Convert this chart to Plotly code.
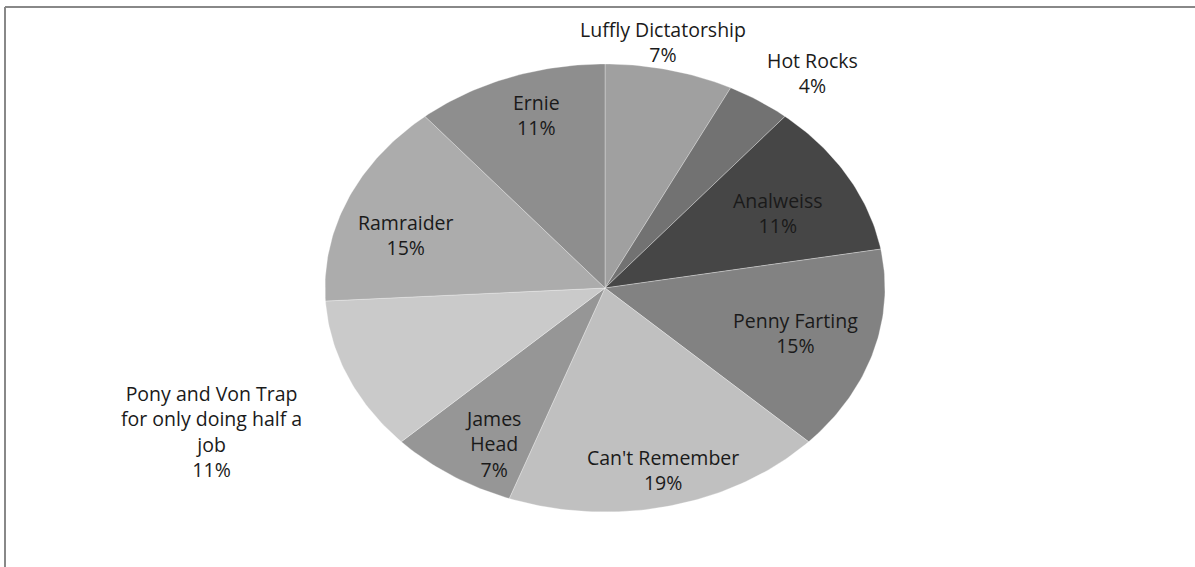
import numpy as np
import plotly.graph_objects as go

# ---- data ----
categories = ["Luffly Dictatorship", "Hot Rocks", "Analweiss", "Penny Farting",
              "Can't Remember", "James Head",
              "Pony and Von Trap for only doing half a job", "Ramraider", "Ernie"]
votes = [2, 1, 3, 4, 5, 2, 3, 4, 3]

# ---- style ----
colors = ["#a0a0a0", "#727272", "#464646", "#828282", "#c0c0c0",
          "#969696", "#cacaca", "#acacac", "#8e8e8e"]
label_lines = [["Luffly Dictatorship"], ["Hot Rocks"], ["Analweiss"], ["Penny Farting"],
               ["Can't Remember"], ["James", "Head"],
               ["Pony and Von Trap", "for only doing half a", "job"], ["Ramraider"], ["Ernie"]]
label_pos = [(663, 30), (812, 61), (778, 201), (795, 321), (663, 458),
             (493, 419), (211, 395), (406, 223), (536, 103)]
ref_gap = 24.5

W, H = 1195, 567
cx, cy, rx, ry = 605, 288, 280, 224

fig = go.Figure()
total = sum(votes)
start = 0.0
for name, v, col in zip(categories, votes, colors):
    frac = v / total
    th = np.linspace(start, start + frac * 2 * np.pi, max(int(frac * 400), 8))
    xs = np.concatenate([[cx], cx + rx * np.sin(th), [cx]])
    ys = np.concatenate([[cy], cy - ry * np.cos(th), [cy]])
    fig.add_trace(go.Scatter(x=xs, y=ys, mode="lines", fill="toself",
                             fillcolor=col, line=dict(color="rgba(255,255,255,0.3)", width=1),
                             name=name, hoverinfo="name", showlegend=False))
    start += frac * 2 * np.pi

for lines, v, (lx, ly) in zip(label_lines, votes, label_pos):
    pct = round(v / total * 100)
    allines = lines + [f"{pct}%"]
    yc = ly + (len(allines) - 1) * ref_gap / 2
    fig.add_annotation(x=lx, y=yc, text="<br>".join(allines), showarrow=False,
                       font=dict(family="Open Sans", size=19.5, color="#1a1a1a"),
                       xanchor="center", yanchor="middle", align="center", borderpad=0)

# chart frame (left and top edges visible)
fig.add_shape(type="line", x0=5, x1=W, y0=7, y1=7, line=dict(color="#888888", width=2))
fig.add_shape(type="line", x0=5, x1=5, y0=7, y1=H, line=dict(color="#888888", width=2))

fig.update_layout(width=W, height=H, margin=dict(l=0, r=0, t=0, b=0),
                  paper_bgcolor="white", plot_bgcolor="white",
                  xaxis=dict(range=[0, W], visible=False, fixedrange=True),
                  yaxis=dict(range=[H, 0], visible=False, fixedrange=True))
fig.write_html("out.html", config={"displayModeBar": False},
               post_script="document.body.style.margin='0';")
